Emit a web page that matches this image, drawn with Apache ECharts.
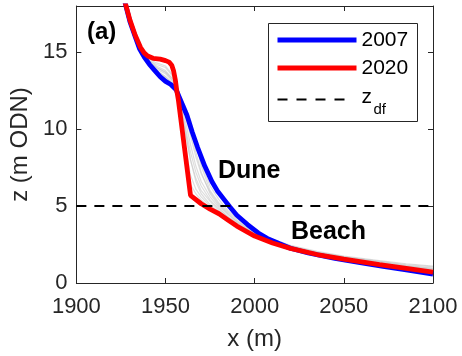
<!DOCTYPE html>
<html>
<head>
<meta charset="utf-8">
<script src="https://cdn.jsdelivr.net/npm/echarts@6/dist/echarts.min.js"></script>
<style>
  html, body { margin: 0; padding: 0; background: #ffffff; }
  #chart { width: 462px; height: 356px; }
</style>
</head>
<body>
<div id="chart"></div>
<script>
// Cross-shore profiles: elevation z (m ODN) against chainage x (m)
var profile2007 = [[1926,18.8],[1930,17.0],[1933,16.0],[1935.5,15.2],[1938,14.7],[1941,14.2],[1944,13.8],[1947,13.4],[1950,13.1],[1953,12.9],[1956,12.55],[1958,12.0],[1962,10.9],[1965,9.8],[1968,8.8],[1972,7.6],[1976,6.6],[1979,6.0],[1983,5.4],[1986,4.95],[1990,4.4],[1996,3.8],[2002,3.25],[2007,2.9],[2014,2.55],[2020,2.26],[2030,1.95],[2045,1.6],[2060,1.3],[2072,1.08],[2085,0.85],[2100,0.58]];

var profile2020 = [[1926,18.8],[1930,17.1],[1933,16.1],[1936,15.3],[1938,14.95],[1940,14.75],[1943,14.6],[1947,14.55],[1950,14.45],[1952,14.35],[1953.5,14.15],[1954.5,13.8],[1955.5,13.2],[1956.3,12.5],[1957.2,11.9],[1960.5,8.9],[1964,5.7],[1970,5.15],[1975,4.8],[1980,4.5],[1985,4.1],[1990,3.7],[2000,3.05],[2010,2.6],[2020,2.25],[2035,1.85],[2050,1.55],[2070,1.2],[2085,0.95],[2100,0.7]];

// Intermediate surveys share one chainage grid
var surveyX = [1926,1935,1940,1945,1950,1955,1958,1961,1964,1967,1970,1975,1980,1985,1990,2000,2010,2020,2035,2050,2070,2085,2100];
var surveyZ = [
  [18.8,15.3,14.4,13.9,13.6,13.0,12.0,10.6,9.0,7.6,6.6,5.6,4.9,4.3,3.9,3.2,2.7,2.35,1.95,1.65,1.3,1.05,0.85],
  [18.8,15.3,14.5,14.1,13.8,13.1,11.6,9.8,8.0,6.8,6.0,5.3,4.7,4.2,3.8,3.15,2.65,2.3,1.9,1.6,1.25,1.0,0.8],
  [18.8,15.3,14.35,13.8,13.4,12.8,12.1,11.0,9.6,8.2,7.1,5.9,5.1,4.5,4.0,3.3,2.8,2.4,2.0,1.7,1.35,1.1,0.9],
  [18.8,15.35,14.5,14.2,14.0,13.3,11.2,9.0,7.0,6.1,5.6,5.0,4.55,4.15,3.8,3.2,2.7,2.35,1.95,1.65,1.35,1.1,0.95],
  [18.8,15.3,14.3,13.7,13.3,12.7,12.0,11.2,10.2,9.0,7.8,6.3,5.4,4.7,4.2,3.4,2.85,2.45,2.05,1.75,1.45,1.25,1.1],
  [18.8,15.3,14.4,14.0,13.7,13.0,11.8,10.2,8.5,7.2,6.3,5.4,4.8,4.3,3.9,3.25,2.75,2.4,2.0,1.7,1.4,1.2,1.05],
  [18.8,15.3,14.6,14.3,14.1,13.4,11.0,8.4,6.4,5.8,5.4,4.9,4.5,4.1,3.75,3.15,2.65,2.3,1.9,1.55,1.2,0.9,0.6],
  [18.8,15.3,14.3,13.7,13.2,12.7,12.2,11.5,10.6,9.2,7.6,6.0,5.2,4.6,4.1,3.35,2.8,2.4,1.95,1.6,1.2,0.85,0.5],
  [18.8,15.3,14.5,14.0,13.7,13.2,12.0,10.0,8.0,6.6,5.8,5.1,4.6,4.2,3.85,3.2,2.7,2.35,1.95,1.6,1.25,0.95,0.7],
  [18.8,15.3,14.4,13.8,13.4,12.9,12.3,11.4,10.0,8.5,7.2,5.8,5.0,4.45,4.0,3.3,2.8,2.4,2.0,1.7,1.4,1.15,0.95]
];

var zdf = 5;            // dune-foot elevation
var xRange = [1900, 2100];
var zRange = [0, 18];
var xTickStep = 50;
var zTickStep = 5;
var legendNames = ['2007', '2020', 'z', 'df'];

var FONT = '"Liberation Sans", Arial, Helvetica, sans-serif';
var INK = '#262626';
var BLUE = '#0000ff';
var RED = '#ff0000';
var LINE_W = 4.8;

var series = [];
surveyZ.forEach(function (zs, i) {
  series.push({
    name: 'survey' + i,
    type: 'line',
    data: surveyX.map(function (x, j) { return [x, zs[j]]; }),
    showSymbol: false,
    symbol: 'none',
    silent: true,
    lineStyle: { color: 'rgba(200,200,200,0.6)', width: 1.2 },
    z: 1
  });
});
series.push({
  name: '2007', type: 'line', data: profile2007,
  showSymbol: false, symbol: 'none',
  lineStyle: { color: BLUE, width: LINE_W }, z: 2
});
series.push({
  name: '2020', type: 'line', data: profile2020,
  showSymbol: false, symbol: 'none',
  lineStyle: { color: RED, width: LINE_W }, z: 3
});
series.push({
  name: 'zdf', type: 'line', data: [[xRange[0], zdf], [xRange[1], zdf]],
  showSymbol: false, symbol: 'none',
  lineStyle: { color: '#000000', width: 2, type: [10, 8] }, z: 4
});

function plainNumber(v) { return String(v); }

function frameAxis(pos, isX) {
  return {
    type: 'value', position: pos,
    min: isX ? xRange[0] : zRange[0],
    max: isX ? xRange[1] : zRange[1],
    interval: isX ? xTickStep : zTickStep,
    axisLine: { show: true, onZero: false, lineStyle: { color: INK, width: 1 } },
    axisTick: { show: true, inside: true, length: 5, lineStyle: { color: INK, width: 1 } },
    axisLabel: { show: false },
    splitLine: { show: false }
  };
}

var xMain = frameAxis('bottom', true);
xMain.axisLabel = { show: true, fontSize: 22, color: INK, fontFamily: FONT, margin: 13, formatter: plainNumber };
xMain.name = 'x (m)';
xMain.nameLocation = 'middle';
xMain.nameGap = 44;
xMain.nameTextStyle = { fontSize: 24, color: INK, fontFamily: FONT };

var yMain = frameAxis('left', false);
yMain.axisLabel = { show: true, fontSize: 22, color: INK, fontFamily: FONT, margin: 9, padding: [4, 0, 0, 0], showMaxLabel: false, formatter: plainNumber };
yMain.name = 'z (m ODN)';
yMain.nameLocation = 'middle';
yMain.nameGap = 41;
yMain.nameTextStyle = { fontSize: 24, color: INK, fontFamily: FONT };

// Legend box drawn as graphic elements
var legendGraphic = {
  type: 'group', left: 268, top: 23,
  children: [
    { type: 'rect', shape: { x: 0, y: 0, width: 149, height: 98 },
      style: { fill: '#ffffff', stroke: INK, lineWidth: 1 }, z: 10 },
    { type: 'line', shape: { x1: 9, y1: 16.5, x2: 88, y2: 16.5 },
      style: { stroke: BLUE, lineWidth: LINE_W }, z: 11 },
    { type: 'text', x: 93, y: 17, style: { text: legendNames[0], font: '21px ' + FONT, fill: '#000000', verticalAlign: 'middle' }, z: 11 },
    { type: 'line', shape: { x1: 9, y1: 44.5, x2: 88, y2: 44.5 },
      style: { stroke: RED, lineWidth: LINE_W }, z: 11 },
    { type: 'text', x: 93, y: 45, style: { text: legendNames[1], font: '21px ' + FONT, fill: '#000000', verticalAlign: 'middle' }, z: 11 },
    { type: 'line', shape: { x1: 9, y1: 76, x2: 80, y2: 76 },
      style: { stroke: '#000000', lineWidth: 2, lineDash: [10, 9] }, z: 11 },
    { type: 'text', x: 93, y: 74, style: { text: legendNames[2], font: '21px ' + FONT, fill: '#000000', verticalAlign: 'middle' }, z: 11 },
    { type: 'text', x: 105, y: 86, style: { text: legendNames[3], font: '15px ' + FONT, fill: '#000000', verticalAlign: 'middle' }, z: 11 }
  ]
};

var chart = echarts.init(document.getElementById('chart'), null, { renderer: 'canvas' });
chart.setOption({
  animation: false,
  backgroundColor: '#ffffff',
  grid: { left: 73, right: 29, top: 6, bottom: 71 },
  xAxis: [xMain, frameAxis('top', true)],
  yAxis: [yMain, frameAxis('right', false)],
  graphic: [
    legendGraphic,
    { type: 'text', left: 87, top: 20, style: { text: '(a)', font: 'bold 24px ' + FONT, fill: '#000000' } },
    { type: 'text', left: 218, top: 159, style: { text: 'Dune', font: 'bold 25px ' + FONT, fill: '#000000' } },
    { type: 'text', left: 291, top: 220, style: { text: 'Beach', font: 'bold 25px ' + FONT, fill: '#000000' } }
  ],
  series: series
});
</script>
</body>
</html>
